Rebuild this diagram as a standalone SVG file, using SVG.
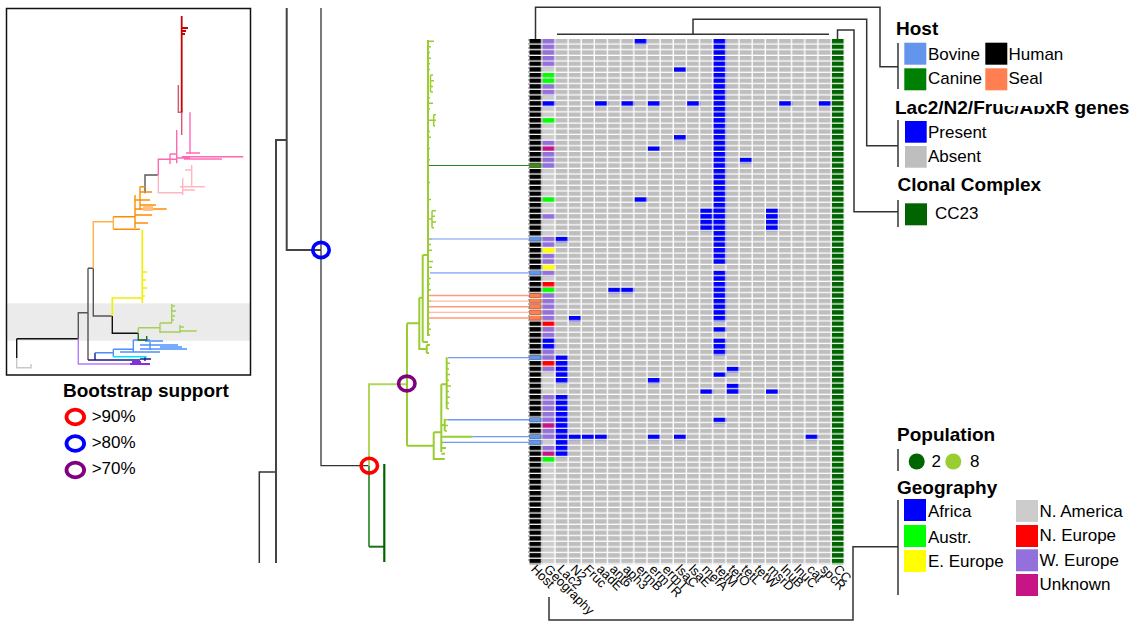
<svg xmlns="http://www.w3.org/2000/svg" width="1141" height="623" viewBox="0 0 1141 623">
<style>
text{font-family:"Liberation Sans",Arial,sans-serif;fill:#000}
.title{font-size:19px;font-weight:bold}
.lab{font-size:17px}
.col{font-size:13px}
.br{fill:none;stroke:#333;stroke-width:1.5}
.ln{fill:none;stroke-linecap:butt}
</style>
<defs>
<pattern id="pg" patternUnits="userSpaceOnUse" x="529.3" y="39" width="13.15" height="5.65"><rect width="11.8" height="4.4" fill="#BEBEBE"/></pattern>
<pattern id="pk" patternUnits="userSpaceOnUse" x="529.3" y="39" width="13.15" height="5.65"><rect width="11.8" height="4.4" fill="#000"/></pattern>
<pattern id="pc" patternUnits="userSpaceOnUse" x="529.3" y="39" width="13.15" height="5.65"><rect width="11.8" height="4.4" fill="#006400"/></pattern>
<pattern id="pn" patternUnits="userSpaceOnUse" x="529.3" y="39" width="13.15" height="5.65"><rect width="11.8" height="4.4" fill="#CCCCCC"/></pattern>
<pattern id="pb" patternUnits="userSpaceOnUse" x="529.3" y="39" width="13.15" height="5.65"><rect width="11.8" height="4.4" fill="#0000FF"/></pattern>
<pattern id="pp" patternUnits="userSpaceOnUse" x="529.3" y="39" width="13.15" height="5.65"><rect width="11.8" height="4.4" fill="#9370DB"/></pattern>
<pattern id="pgr" patternUnits="userSpaceOnUse" x="529.3" y="39" width="13.15" height="5.65"><rect width="11.8" height="4.4" fill="#00FF00"/></pattern>
<pattern id="pm" patternUnits="userSpaceOnUse" x="529.3" y="39" width="13.15" height="5.65"><rect width="11.8" height="4.4" fill="#C71585"/></pattern>
<pattern id="py" patternUnits="userSpaceOnUse" x="529.3" y="39" width="13.15" height="5.65"><rect width="11.8" height="4.4" fill="#FFFF00"/></pattern>
<pattern id="pr" patternUnits="userSpaceOnUse" x="529.3" y="39" width="13.15" height="5.65"><rect width="11.8" height="4.4" fill="#FF0000"/></pattern>
<pattern id="pbv" patternUnits="userSpaceOnUse" x="529.3" y="39" width="13.15" height="5.65"><rect width="11.8" height="4.4" fill="#6495ED"/></pattern>
<pattern id="ps" patternUnits="userSpaceOnUse" x="529.3" y="39" width="13.15" height="5.65"><rect width="11.8" height="4.4" fill="#FF7F50"/></pattern>
<pattern id="pcn" patternUnits="userSpaceOnUse" x="529.3" y="39" width="13.15" height="5.65"><rect width="11.8" height="4.4" fill="#3F8A1F"/></pattern>
</defs>

<!-- Inset overview tree -->
<g id="inset">
<rect x="7.3" y="303.3" width="243" height="37.4" fill="#EBEBEB"/>
<g class="ln" stroke-width="1.4">
<path d="M16.7,338.7V358M16.7,338.7H78.3M112.3,316V333.3H138.3" stroke="#111"/>
<path d="M78.3,338.7V312.7H88M88,268.3V360M88,268.3H93.3M93.3,268.3V316H112.3M145,193.3V175H158.3" stroke="#555"/>
<path d="M16.7,358V367.7H31V364" stroke="#C8C8C8"/>
<path d="M78.3,338.7V364H130" stroke="#B57BFF"/>
<path d="M130,364H150M132,362H141" stroke="#8A2BE2" stroke-width="2"/>
<path d="M88,360H95M95,352.7V360H140M140,359H151M145,357V361" stroke="#1A1A8C"/>
<path d="M95,352.7H113.3M113.3,349.3V356.7M113.3,349.3H133.3M133.3,340V352M133.3,340H150M145,341H163M140,345H178M140,349H187M150,342V350M160,347H182M120,352H160" stroke="#4A90FF"/>
<path d="M113.3,356.7H146.7" stroke="#00E5FF"/>
<path d="M138.3,327.7V333M138.3,327.7H160M160,323V333M160,323H171.7M171.7,304V323M171.7,306H175M171.7,311H176M171.7,316H175M171.7,320H174M160,332H180M180,325V333M180,331H196.7M180,327H184" stroke="#A5D152"/>
<path d="M138.3,333.3V340H146.7V336" stroke="#1E6B1E"/>
<path d="M112.3,316V298H141.7M142.3,230V303M142.3,272H147M142.3,280H146M142.3,288H147M142.3,296H145" stroke="#F2EE00" stroke-width="1.6"/>
<path d="M93.3,268.3V221.7H113.3M113.3,216.7V229.3" stroke="#FFB347"/>
<path d="M113.3,216.7H135M113.3,229.3H140M135,195V228M140,186.7V210M140,186.7H145M135,209H166.7M135,200H150M135,215H152M135,223H148M140,192H152M140,205H156" stroke="#FF8C00"/>
<rect x="143" y="206" width="10" height="5" fill="#FFC080"/>
<path d="M158.3,175V192.7H182.7M182.7,178V195M191.7,165V186.7M180,186.7H205M182.7,190H195M185,170H192" stroke="#FFB6C1"/>
<path d="M158.3,175V159.3H176.7M176.7,130V163.3M170,154V164M170,154H176.7M181.7,156.7H243.3M190,112.3V154M176.7,158H190M186,153H200M184,159H222" stroke="#FF69B4"/>
<path d="M178.3,85V112.3H182.7M181.7,112.3V135" stroke="#D85A6A"/>
<path d="M181.7,16V112.3M181.7,28H188M181.7,31H186M181.7,34H185" stroke="#CC0000" stroke-width="1.8"/>
</g>
<rect x="6.5" y="8.5" width="244" height="366.5" fill="none" stroke="#111" stroke-width="1.5"/>
</g>

<!-- Bootstrap legend -->
<g id="bootstrap-legend">
<text class="title" x="63" y="397">Bootstrap support</text>
<ellipse cx="75.3" cy="417" rx="8.8" ry="7.3" fill="none" stroke="#FF0000" stroke-width="3.8"/>
<text class="lab" x="91.7" y="422">&gt;90%</text>
<ellipse cx="75.3" cy="443.5" rx="8.8" ry="7.3" fill="none" stroke="#0000FF" stroke-width="3.8"/>
<text class="lab" x="91.7" y="448">&gt;80%</text>
<ellipse cx="75.3" cy="470" rx="8.8" ry="7.3" fill="none" stroke="#800080" stroke-width="3.8"/>
<text class="lab" x="91.7" y="474">&gt;70%</text>
</g>

<!-- Main tree -->
<g id="tree" class="ln">
<path d="M259.3,563V472H276" stroke="#333" stroke-width="1.5"/>
<path d="M276,563V140H286.7M286.7,8V250H321" stroke="#444" stroke-width="2"/>
<path d="M321,8V465.7H369" stroke="#333" stroke-width="1.3"/>
<path d="M369,465.7V384.3H407" stroke="#B2D65C" stroke-width="2"/>
<path d="M407,323.3V445.7M407,323.3H419.3M419.3,297.7V349H426.7M426.7,345V353M426.7,345H430M426.7,353H429M419.3,297.7H422.7M422.7,255V342M422.7,255H428M422.7,342H428M428,40V336M407,445.7H433.7M433.7,432.3V459H444.7M433.7,432.3H441.3M441.3,384.3V452M441.3,384.3H446.7M446.7,357.3V408.7M444.7,419V431M441.3,425H444.7M441.3,436.7H472.7M441.3,442.4H443M441.3,448H446M441.3,453.7H445" stroke="#9ACD32" stroke-width="2"/>
<path d="M446.7,363.3H450M446.7,369H449M446.7,374.6H450M446.7,380.3H449M446.7,386H451M446.7,391.6H449M446.7,397.3H450M446.7,403H449M446.7,408.7H449M444.7,419.8H448M444.7,425.5H448M444.7,431H447" stroke="#9ACD32" stroke-width="1.5"/>
<path d="M428,41.2H434M428,46.85H431M428,52.5H430M428,58.15H431M428,63.8H430M428,69.45H430M430.5,75.1V92.05M430.5,75.1H433M430.5,80.75H434M430.5,86.4H433M430.5,92.05H433M428,97.7H430M428,103.35H433M428,109H430M428,120.3H433.7M433.7,114.65V125.95M433.7,114.65H436M433.7,120.3H436M433.7,125.95H435M428,131.6H430M428,137.25H431M428,148.55H430M428,159.85H430M428,182.45H430M428,199.4H431M428,219H432M432,210.7V227.65M432,210.7H436M432,216.35H435M432,222H436M432,227.65H434M428,238.95H432M428,244.6H431M428,250.25H432M428,261.55H433M428,267.2H432M428,278.5H431M428,284.15H430M428,289.8H431M428,301.1H431M428,312.4H430M428,323.7H430M428,329.35H431M428,335H430" stroke="#9ACD32" stroke-width="1.5"/>
<path d="M369,465.7V546.7" stroke="#4C9A4C" stroke-width="2"/>
<path d="M369,546.7H384.3" stroke="#1F6F1F" stroke-width="2"/>
<path d="M384.3,464V562" stroke="#006400" stroke-width="2.2"/>
<ellipse cx="321" cy="250" rx="8.2" ry="7.6" fill="none" stroke="#0000FF" stroke-width="3.6"/>
<ellipse cx="369.3" cy="465.7" rx="8.2" ry="7.4" fill="none" stroke="#FF0000" stroke-width="3.6"/>
<ellipse cx="406.8" cy="383.5" rx="8.2" ry="7.4" fill="none" stroke="#800080" stroke-width="3.6"/>
</g>

<!-- Connectors from tips to heatmap and legend brackets -->
<g id="connectors" class="ln">
<path d="M528.8,39V563" stroke="#999" stroke-width="1" stroke-dasharray="2,2"/>
<path d="M429,165.5H529" stroke="#228B22" stroke-width="1.2"/>
<path d="M430,238.95H529M430,272.85H529" stroke="#A3B9FA" stroke-width="1.6"/>
<path d="M429,295.45H529M429,306.75H529M429,318.05H529" stroke="#FF9A7A" stroke-width="1.4"/>
<path d="M429,301.1H529M429,312.4H529" stroke="#FFBBA5" stroke-width="1.4"/>
<path d="M448,357.6H529M448,419.75H529M472.7,436.7H529M443,442.35H529" stroke="#6F9AF0" stroke-width="1.3"/>
<path class="br" d="M535.5,39V7.3H880V66.7H898"/>
<path class="br" d="M557,34.3H829M693,34.3V19.3H866.7V145.7H898"/>
<path class="br" d="M837.5,39V30H854V211.7H898"/>
<path class="br" d="M549,597V620H853V546.7H898"/>
</g>

<!-- Heatmap -->
<g id="heatmap">
<rect x="529.3" y="39" width="13.15" height="525.45" fill="url(#pk)"/>
<rect x="542.45" y="39" width="13.15" height="525.45" fill="url(#pn)"/>
<rect x="555.6" y="39" width="276.15" height="525.45" fill="url(#pg)"/>
<rect x="831.75" y="39" width="13.15" height="525.45" fill="url(#pc)"/>
<!-- host overrides -->
<rect x="529.3" y="163.3" width="13.15" height="5.65" fill="url(#pcn)"/>
<rect x="529.3" y="236.75" width="13.15" height="5.65" fill="url(#pbv)"/>
<rect x="529.3" y="270.65" width="13.15" height="5.65" fill="url(#pbv)"/>
<rect x="529.3" y="293.25" width="13.15" height="28.25" fill="url(#ps)"/>
<rect x="529.3" y="355.4" width="13.15" height="5.65" fill="url(#pbv)"/>
<rect x="529.3" y="417.55" width="13.15" height="5.65" fill="url(#pbv)"/>
<rect x="529.3" y="434.5" width="13.15" height="11.3" fill="url(#pbv)"/>
<!-- geography overrides -->
<g>
<rect x="542.45" y="39" width="13.15" height="28.25" fill="url(#pp)"/>
<rect x="542.45" y="84.2" width="13.15" height="11.3" fill="url(#pp)"/>
<rect x="542.45" y="140.7" width="13.15" height="5.65" fill="url(#pp)"/>
<rect x="542.45" y="152" width="13.15" height="16.95" fill="url(#pp)"/>
<rect x="542.45" y="214.15" width="13.15" height="5.65" fill="url(#pp)"/>
<rect x="542.45" y="236.75" width="13.15" height="11.3" fill="url(#pp)"/>
<rect x="542.45" y="253.7" width="13.15" height="11.3" fill="url(#pp)"/>
<rect x="542.45" y="270.65" width="13.15" height="5.65" fill="url(#pp)"/>
<rect x="542.45" y="293.25" width="13.15" height="28.25" fill="url(#pp)"/>
<rect x="542.45" y="327.15" width="13.15" height="11.3" fill="url(#pp)"/>
<rect x="542.45" y="349.75" width="13.15" height="11.3" fill="url(#pp)"/>
<rect x="542.45" y="366.7" width="13.15" height="5.65" fill="url(#pp)"/>
<rect x="542.45" y="394.95" width="13.15" height="28.25" fill="url(#pp)"/>
<rect x="542.45" y="428.85" width="13.15" height="11.3" fill="url(#pp)"/>
<rect x="542.45" y="445.8" width="13.15" height="5.65" fill="url(#pp)"/>
<rect x="542.45" y="72.9" width="13.15" height="11.3" fill="url(#pgr)"/>
<rect x="542.45" y="118.1" width="13.15" height="5.65" fill="url(#pgr)"/>
<rect x="542.45" y="197.2" width="13.15" height="5.65" fill="url(#pgr)"/>
<rect x="542.45" y="287.6" width="13.15" height="5.65" fill="url(#pgr)"/>
<rect x="542.45" y="457.1" width="13.15" height="5.65" fill="url(#pgr)"/>
<rect x="542.45" y="101.15" width="13.15" height="5.65" fill="url(#pb)"/>
<rect x="542.45" y="338.45" width="13.15" height="11.3" fill="url(#pb)"/>
<rect x="542.45" y="146.35" width="13.15" height="5.65" fill="url(#pm)"/>
<rect x="542.45" y="423.2" width="13.15" height="5.65" fill="url(#pm)"/>
<rect x="542.45" y="451.45" width="13.15" height="5.65" fill="url(#pm)"/>
<rect x="542.45" y="248.05" width="13.15" height="5.65" fill="url(#py)"/>
<rect x="542.45" y="265" width="13.15" height="5.65" fill="url(#py)"/>
<rect x="542.45" y="281.95" width="13.15" height="5.65" fill="url(#pr)"/>
<rect x="542.45" y="321.5" width="13.15" height="5.65" fill="url(#pr)"/>
<rect x="542.45" y="361.05" width="13.15" height="5.65" fill="url(#pr)"/>
</g>
<!-- genes present -->
<g fill="url(#pb)">
<rect x="713.4" y="39" width="13.15" height="226"/>
<rect x="713.4" y="270.65" width="13.15" height="50.85"/>
<rect x="713.4" y="327.15" width="13.15" height="5.65"/>
<rect x="713.4" y="338.45" width="13.15" height="16.95"/>
<rect x="713.4" y="372.35" width="13.15" height="5.65"/>
<rect x="713.4" y="417.55" width="13.15" height="5.65"/>
<rect x="634.5" y="39" width="13.15" height="5.65"/>
<rect x="673.95" y="67.25" width="13.15" height="5.65"/>
<rect x="595.05" y="101.15" width="13.15" height="5.65"/>
<rect x="621.35" y="101.15" width="13.15" height="5.65"/>
<rect x="647.65" y="101.15" width="13.15" height="5.65"/>
<rect x="687.1" y="101.15" width="13.15" height="5.65"/>
<rect x="779.15" y="101.15" width="13.15" height="5.65"/>
<rect x="818.6" y="101.15" width="13.15" height="5.65"/>
<rect x="673.95" y="135.05" width="13.15" height="5.65"/>
<rect x="647.65" y="146.35" width="13.15" height="5.65"/>
<rect x="739.7" y="157.65" width="13.15" height="5.65"/>
<rect x="634.5" y="197.2" width="13.15" height="5.65"/>
<rect x="700.25" y="208.5" width="13.15" height="22.6"/>
<rect x="766" y="208.5" width="13.15" height="22.6"/>
<rect x="555.6" y="236.75" width="13.15" height="5.65"/>
<rect x="608.2" y="287.6" width="26.3" height="5.65"/>
<rect x="568.75" y="315.85" width="13.15" height="5.65"/>
<rect x="555.6" y="355.4" width="13.15" height="28.25"/>
<rect x="555.6" y="394.95" width="13.15" height="62.15"/>
<rect x="726.55" y="366.7" width="13.15" height="5.65"/>
<rect x="647.65" y="378" width="13.15" height="5.65"/>
<rect x="726.55" y="383.65" width="13.15" height="11.3"/>
<rect x="700.25" y="389.3" width="13.15" height="5.65"/>
<rect x="766" y="389.3" width="13.15" height="5.65"/>
<rect x="568.75" y="434.5" width="39.45" height="5.65"/>
<rect x="647.65" y="434.5" width="13.15" height="5.65"/>
<rect x="673.95" y="434.5" width="13.15" height="5.65"/>
<rect x="805.45" y="434.5" width="13.15" height="5.65"/>
</g>
<!-- column labels -->
<g>
<text class="col" x="530.2" y="570" transform="rotate(45 530.2 570)">Host</text>
<text class="col" x="543.35" y="570" transform="rotate(45 543.35 570)">Geography</text>
<text class="col" x="556.5" y="570" transform="rotate(45 556.5 570)">Lac2</text>
<text class="col" x="569.65" y="570" transform="rotate(45 569.65 570)">N2</text>
<text class="col" x="582.8" y="570" transform="rotate(45 582.8 570)">Fruc</text>
<text class="col" x="595.95" y="570" transform="rotate(45 595.95 570)">aadE</text>
<text class="col" x="609.1" y="570" transform="rotate(45 609.1 570)">ant6</text>
<text class="col" x="622.25" y="570" transform="rotate(45 622.25 570)">aph3</text>
<text class="col" x="635.4" y="570" transform="rotate(45 635.4 570)">ermB</text>
<text class="col" x="648.55" y="570" transform="rotate(45 648.55 570)">ermTR</text>
<text class="col" x="661.7" y="570" transform="rotate(45 661.7 570)">ermT</text>
<text class="col" x="674.85" y="570" transform="rotate(45 674.85 570)">lsaC</text>
<text class="col" x="688" y="570" transform="rotate(45 688 570)">lsaE</text>
<text class="col" x="701.15" y="570" transform="rotate(45 701.15 570)">mefA</text>
<text class="col" x="714.3" y="570" transform="rotate(45 714.3 570)">tetM</text>
<text class="col" x="727.45" y="570" transform="rotate(45 727.45 570)">tetO</text>
<text class="col" x="740.6" y="570" transform="rotate(45 740.6 570)">tetL</text>
<text class="col" x="753.75" y="570" transform="rotate(45 753.75 570)">tetW</text>
<text class="col" x="766.9" y="570" transform="rotate(45 766.9 570)">msrD</text>
<text class="col" x="780.05" y="570" transform="rotate(45 780.05 570)">lnuB</text>
<text class="col" x="793.2" y="570" transform="rotate(45 793.2 570)">lnuC</text>
<text class="col" x="806.35" y="570" transform="rotate(45 806.35 570)">cat</text>
<text class="col" x="819.5" y="570" transform="rotate(45 819.5 570)">spcR</text>
<text class="col" x="832.65" y="570" transform="rotate(45 832.65 570)">CC</text>
</g>
</g>

<!-- Legends -->
<g id="legend-host">
<text class="title" x="896" y="35">Host</text>
<path class="br" d="M898,43V89"/>
<rect x="904.3" y="42.7" width="22" height="22" fill="#6495ED"/>
<text class="lab" x="928" y="59.5">Bovine</text>
<rect x="985.3" y="42.7" width="22" height="22" fill="#000"/>
<text class="lab" x="1008.5" y="59.5">Human</text>
<rect x="904.3" y="68.3" width="22" height="22" fill="#008000"/>
<text class="lab" x="928" y="84">Canine</text>
<rect x="985.3" y="68.3" width="22" height="22" fill="#FF7F50"/>
<text class="lab" x="1008.5" y="84">Seal</text>
</g>
<g id="legend-genes">
<text class="title" x="895" y="114">Lac2/N2/Fruc/AbxR genes</text>
<rect x="1002" y="94" width="42" height="12" fill="#fff"/>
<path class="br" d="M898,120V167"/>
<rect x="905" y="121" width="21.7" height="21.7" fill="#0000FF"/>
<text class="lab" x="928" y="137.5">Present</text>
<rect x="905" y="146" width="21.7" height="21.7" fill="#BEBEBE"/>
<text class="lab" x="928" y="162">Absent</text>
</g>
<g id="legend-cc">
<text class="title" x="897.5" y="190.5">Clonal Complex</text>
<path class="br" d="M898,200V227"/>
<rect x="905" y="203.3" width="22" height="22" fill="#006400"/>
<text class="lab" x="935" y="218.5">CC23</text>
</g>
<g id="legend-population">
<text class="title" x="897" y="441">Population</text>
<path class="br" d="M898,449V471"/>
<circle cx="916.7" cy="461.5" r="8" fill="#006400"/>
<text class="lab" x="931.5" y="467">2</text>
<circle cx="953.3" cy="461.5" r="8" fill="#9ACD32"/>
<text class="lab" x="970" y="467">8</text>
</g>
<g id="legend-geography">
<text class="title" x="897" y="494">Geography</text>
<path class="br" d="M898,500V595"/>
<rect x="904" y="499" width="22" height="22" fill="#0000FF"/>
<text class="lab" x="928" y="517.3">Africa</text>
<rect x="904" y="525" width="22" height="22" fill="#00FF00"/>
<text class="lab" x="928" y="543.3">Austr.</text>
<rect x="904" y="550" width="22" height="22" fill="#FFFF00"/>
<text class="lab" x="928" y="567">E. Europe</text>
<rect x="1016" y="500" width="22" height="22" fill="#CCCCCC"/>
<text class="lab" x="1039.5" y="516.7">N. America</text>
<rect x="1016" y="525" width="22" height="22" fill="#FF0000"/>
<text class="lab" x="1039.5" y="541">N. Europe</text>
<rect x="1016" y="549.3" width="22" height="22" fill="#9370DB"/>
<text class="lab" x="1039.5" y="566">W. Europe</text>
<rect x="1016" y="574" width="22" height="22" fill="#C71585"/>
<text class="lab" x="1039.5" y="590">Unknown</text>
</g>
</svg>
